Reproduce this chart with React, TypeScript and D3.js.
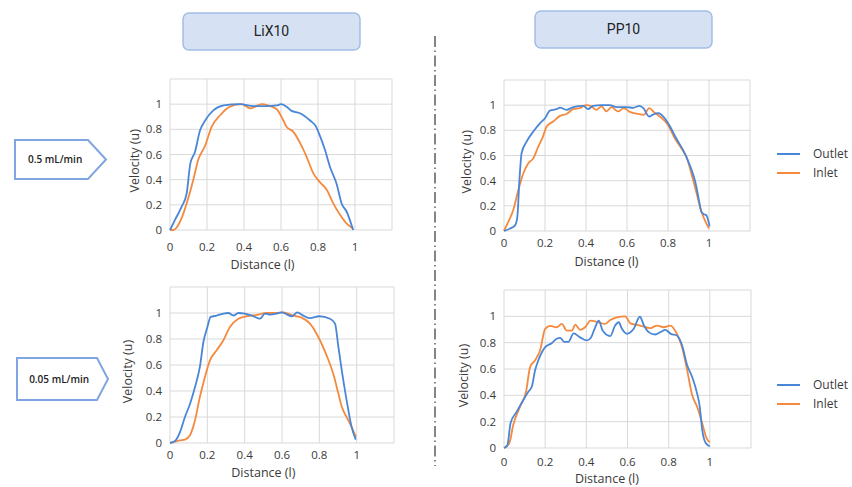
import React, { useEffect, useRef } from 'react';
import * as d3 from 'd3';

type Pt = [number, number];

// LiX10, 0.5 mL/min
const lixFastOutlet: Pt[] = [
  [0, 0], [0.027, 0.08], [0.063, 0.185], [0.09, 0.29], [0.11, 0.53], [0.135, 0.62], [0.162, 0.79],
  [0.19, 0.87], [0.234, 0.95], [0.29, 0.99], [0.378, 1.0], [0.45, 0.985], [0.52, 0.985], [0.577, 0.99],
  [0.6, 1.0], [0.63, 0.98], [0.657, 0.947], [0.7, 0.93], [0.757, 0.87], [0.79, 0.82], [0.81, 0.75],
  [0.838, 0.635], [0.865, 0.5], [0.9, 0.37], [0.928, 0.21], [0.955, 0.145], [0.99, 0.0],
];
const lixFastInlet: Pt[] = [
  [0, 0], [0.018, 0.0], [0.045, 0.04], [0.072, 0.13], [0.1, 0.26], [0.126, 0.4], [0.153, 0.56],
  [0.19, 0.67], [0.225, 0.82], [0.27, 0.91], [0.324, 0.98], [0.387, 1.0], [0.414, 0.98], [0.436, 0.966],
  [0.46, 0.98], [0.495, 1.0], [0.53, 0.99], [0.577, 0.96], [0.613, 0.87], [0.63, 0.82], [0.667, 0.78],
  [0.7, 0.7], [0.739, 0.58], [0.775, 0.45], [0.81, 0.38], [0.847, 0.32], [0.883, 0.21], [0.92, 0.12],
  [0.955, 0.05], [0.99, 0.013],
];

// PP10, 0.5 mL/min
const ppFastOutlet: Pt[] = [
  [0, 0], [0.03, 0.02], [0.054, 0.045], [0.065, 0.11], [0.075, 0.4], [0.086, 0.62], [0.11, 0.71],
  [0.143, 0.79], [0.175, 0.856], [0.2, 0.896], [0.224, 0.957], [0.256, 0.968], [0.273, 0.98],
  [0.305, 0.963], [0.338, 0.984], [0.386, 0.995], [0.41, 0.968], [0.435, 0.995], [0.476, 1.0],
  [0.516, 1.0], [0.549, 0.984], [0.597, 0.984], [0.63, 0.979], [0.662, 0.995], [0.68, 0.976],
  [0.708, 0.91], [0.727, 0.925], [0.752, 0.936], [0.784, 0.896], [0.81, 0.83], [0.84, 0.737],
  [0.873, 0.644], [0.906, 0.524], [0.935, 0.378], [0.951, 0.245], [0.963, 0.152], [0.976, 0.133],
  [0.987, 0.125], [1.003, 0.037],
];
const ppFastInlet: Pt[] = [
  [0, 0], [0.02, 0.07], [0.045, 0.165], [0.07, 0.325], [0.094, 0.457], [0.118, 0.537], [0.143, 0.577],
  [0.167, 0.67], [0.19, 0.75], [0.208, 0.83], [0.24, 0.87], [0.273, 0.915], [0.305, 0.93],
  [0.338, 0.968], [0.37, 0.976], [0.4, 1.0], [0.427, 0.99], [0.45, 0.963], [0.476, 0.99], [0.5, 0.95],
  [0.524, 0.984], [0.557, 0.95], [0.584, 0.976], [0.614, 0.947], [0.654, 0.93], [0.682, 0.923],
  [0.708, 0.976], [0.735, 0.94], [0.76, 0.91], [0.8, 0.843], [0.833, 0.737], [0.865, 0.657],
  [0.89, 0.59], [0.914, 0.457], [0.938, 0.31], [0.958, 0.178], [0.98, 0.085], [1.0, 0.02],
];

// LiX10, 0.05 mL/min
const lixSlowOutlet: Pt[] = [
  [0, 0], [0.027, 0.015], [0.054, 0.085], [0.08, 0.2], [0.107, 0.3], [0.134, 0.43], [0.16, 0.585],
  [0.179, 0.777], [0.2, 0.89], [0.218, 0.97], [0.25, 0.98], [0.286, 0.995], [0.3125, 1.0], [0.34, 0.98],
  [0.366, 1.0], [0.4, 0.995], [0.446, 0.975], [0.482, 0.956], [0.509, 0.995], [0.536, 0.987],
  [0.57, 0.995], [0.598, 1.005], [0.625, 0.99], [0.652, 0.975], [0.682, 1.005], [0.714, 0.98],
  [0.75, 0.96], [0.8, 0.975], [0.857, 0.956], [0.884, 0.918], [0.902, 0.74], [0.92, 0.56],
  [0.946, 0.33], [0.973, 0.123], [0.995, 0.026],
];
const lixSlowInlet: Pt[] = [
  [0, 0], [0.027, 0.01], [0.054, 0.02], [0.08, 0.026], [0.107, 0.06], [0.134, 0.175], [0.16, 0.354],
  [0.1875, 0.51], [0.214, 0.636], [0.25, 0.713], [0.286, 0.79], [0.32, 0.89], [0.366, 0.956],
  [0.41, 0.975], [0.464, 0.985], [0.518, 1.0], [0.57, 1.0], [0.607, 1.005], [0.66, 0.98], [0.705, 0.964],
  [0.75, 0.918], [0.8, 0.8], [0.84, 0.67], [0.875, 0.53], [0.902, 0.38], [0.92, 0.28], [0.946, 0.2],
  [0.973, 0.123], [0.996, 0.046],
];

// PP10, 0.05 mL/min
const ppSlowOutlet: Pt[] = [
  [0, 0], [0.016, 0.018], [0.032, 0.19], [0.062, 0.276], [0.094, 0.364], [0.118, 0.427], [0.135, 0.465],
  [0.151, 0.59], [0.167, 0.666], [0.2, 0.766], [0.232, 0.796], [0.256, 0.83], [0.273, 0.837],
  [0.292, 0.806], [0.313, 0.806], [0.338, 0.87], [0.37, 0.84], [0.403, 0.817], [0.422, 0.837],
  [0.443, 0.917], [0.46, 0.967], [0.48, 0.89], [0.516, 0.85], [0.54, 0.93], [0.557, 0.955],
  [0.573, 0.905], [0.597, 0.867], [0.63, 0.905], [0.66, 0.997], [0.68, 0.93], [0.703, 0.88],
  [0.735, 0.862], [0.76, 0.88], [0.784, 0.897], [0.81, 0.867], [0.84, 0.854], [0.865, 0.78],
  [0.89, 0.628], [0.914, 0.54], [0.938, 0.415], [0.951, 0.314], [0.963, 0.138], [0.98, 0.038],
  [1.0, 0.013],
];
const ppSlowInlet: Pt[] = [
  [0, 0], [0.026, 0.038], [0.045, 0.176], [0.078, 0.314], [0.107, 0.427], [0.127, 0.616], [0.151, 0.666],
  [0.175, 0.74], [0.2, 0.905], [0.224, 0.927], [0.256, 0.917], [0.281, 0.942], [0.305, 0.892],
  [0.33, 0.892], [0.346, 0.937], [0.37, 0.897], [0.394, 0.917], [0.42, 0.967], [0.46, 0.955],
  [0.49, 0.942], [0.516, 0.972], [0.549, 0.992], [0.589, 1.0], [0.614, 0.947], [0.662, 0.93],
  [0.711, 0.91], [0.743, 0.93], [0.776, 0.917], [0.808, 0.93], [0.84, 0.867], [0.865, 0.766],
  [0.89, 0.59], [0.914, 0.402], [0.938, 0.314], [0.963, 0.188], [0.984, 0.075], [1.0, 0.043],
];

const tickValues = [0, 0.2, 0.4, 0.6, 0.8, 1];
const gridValues = [0, 0.2, 0.4, 0.6, 0.8, 1, 1.2];
const materials = ['LiX10', 'PP10'];
const flowRates = ['0.5 mL/min', '0.05 mL/min'];
const seriesNames = ['Outlet', 'Inlet'];

const BLUE = '#4a86d6';
const ORANGE = '#f48a3e';
const FONT = '"Open Sans", "Noto Sans", sans-serif';

const panels = [
  { x0: 170, x1: 392, y0: 230, y1: 79, tickY: 247, titleY: 265, velX: 135, outlet: lixFastOutlet, inlet: lixFastInlet },
  { x0: 504, x1: 750, y0: 231, y1: 80, tickY: 243, titleY: 262, velX: 467, outlet: ppFastOutlet, inlet: ppFastInlet },
  { x0: 170, x1: 394, y0: 443, y1: 287, tickY: 455, titleY: 473, velX: 128, outlet: lixSlowOutlet, inlet: lixSlowInlet },
  { x0: 504, x1: 751, y0: 448, y1: 290, tickY: 462, titleY: 479, velX: 464, outlet: ppSlowOutlet, inlet: ppSlowInlet },
];

const App: React.FC = () => {
  const svgRef = useRef<SVGSVGElement>(null);

  useEffect(() => {
    document.body.style.margin = '0';
    if (!svgRef.current) return;
    const svg = d3.select(svgRef.current);
    svg.selectAll('*').remove();

    svg.append('rect').attr('width', 852).attr('height', 487).attr('fill', '#fff');

    panels.forEach(p => {
      const x = d3.scaleLinear().domain([0, 1.2]).range([p.x0, p.x1]);
      const y = d3.scaleLinear().domain([0, 1.2]).range([p.y0, p.y1]);
      const g = svg.append('g');

      // grid
      g.selectAll('.vgrid').data(gridValues).enter().append('line')
        .attr('x1', d => x(d)).attr('x2', d => x(d))
        .attr('y1', y(0)).attr('y2', y(1.2))
        .attr('stroke', '#d9d9d9').attr('stroke-width', 1);
      g.selectAll('.hgrid').data(gridValues).enter().append('line')
        .attr('x1', x(0)).attr('x2', x(1.2))
        .attr('y1', d => y(d)).attr('y2', d => y(d))
        .attr('stroke', '#d9d9d9').attr('stroke-width', 1);

      // tick labels
      g.selectAll('.ylab').data(tickValues).enter().append('text')
        .attr('x', x(0) - 8).attr('y', d => y(d)).attr('dy', '0.35em')
        .attr('text-anchor', 'end')
        .style('font-family', FONT).style('font-size', '11.5px').attr('fill', '#3a3a3a')
        .text(d => d3.format('~g')(d));
      g.selectAll('.xlab').data(tickValues).enter().append('text')
        .attr('x', d => x(d)).attr('y', p.tickY).attr('dy', '0.35em')
        .attr('text-anchor', 'middle')
        .style('font-family', FONT).style('font-size', '11.5px').attr('fill', '#3a3a3a')
        .text(d => d3.format('~g')(d));

      // axis titles
      g.append('text')
        .attr('x', x(0.5)).attr('y', p.titleY).attr('dy', '0.35em')
        .attr('text-anchor', 'middle')
        .style('font-family', FONT).style('font-size', '12.5px').attr('fill', '#3a3a3a')
        .text('Distance (l)');
      g.append('text')
        .attr('transform', `translate(${p.velX}, ${y(0.55)}) rotate(-90)`)
        .attr('dy', '0.35em')
        .attr('text-anchor', 'middle')
        .style('font-family', FONT).style('font-size', '12.5px').attr('fill', '#3a3a3a')
        .text('Velocity (u)');

      const line = d3.line<Pt>()
        .x(d => x(d[0]))
        .y(d => y(d[1]))
        .curve(d3.curveMonotoneX);

      g.append('path').datum(p.inlet)
        .attr('fill', 'none').attr('stroke', ORANGE).attr('stroke-width', 1.8)
        .attr('d', line);
      g.append('path').datum(p.outlet)
        .attr('fill', 'none').attr('stroke', BLUE).attr('stroke-width', 1.8)
        .attr('d', line);
    });

    // header boxes
    const headers = [
      { x: 183, y: 13, w: 177, h: 37 },
      { x: 535, y: 11, w: 177, h: 37 },
    ];
    headers.forEach((h, i) => {
      svg.append('rect')
        .attr('x', h.x).attr('y', h.y).attr('width', h.w).attr('height', h.h)
        .attr('rx', 6)
        .attr('fill', '#d6e2f4').attr('stroke', '#a3bde6').attr('stroke-width', 1.5);
      svg.append('text')
        .attr('x', h.x + h.w / 2).attr('y', h.y + h.h / 2).attr('dy', '0.35em')
        .attr('text-anchor', 'middle')
        .style('font-family', 'Roboto, sans-serif').style('font-size', '14px').attr('fill', '#222')
        .text(materials[i]);
    });

    // flow-rate arrow boxes
    const arrows = [
      { x: 15, y: 140, w: 73, tip: 18, h: 39 },
      { x: 17, y: 358, w: 80, tip: 11, h: 42 },
    ];
    arrows.forEach((a, i) => {
      const pts: [number, number][] = [
        [a.x, a.y], [a.x + a.w, a.y], [a.x + a.w + a.tip, a.y + a.h / 2],
        [a.x + a.w, a.y + a.h], [a.x, a.y + a.h],
      ];
      svg.append('path')
        .attr('d', d3.line()(pts) + 'Z')
        .attr('fill', '#fff').attr('stroke', '#7fa6e0').attr('stroke-width', 2);
      svg.append('text')
        .attr('x', a.x + (a.w + a.tip * 0.4) / 2).attr('y', a.y + a.h / 2).attr('dy', '0.35em')
        .attr('text-anchor', 'middle')
        .style('font-family', FONT).style('font-size', '10px').style('font-weight', 600).attr('fill', '#222')
        .text(flowRates[i]);
    });

    // dash-dot divider
    svg.append('line')
      .attr('x1', 435).attr('x2', 435).attr('y1', 36).attr('y2', 466)
      .attr('stroke', '#444').attr('stroke-width', 1.3)
      .attr('stroke-dasharray', '11 3.5 1.5 3.5');

    // legends
    const legendTops = [154, 385];
    legendTops.forEach(top => {
      [BLUE, ORANGE].forEach((c, j) => {
        const ly = top + j * 19;
        svg.append('line')
          .attr('x1', 777).attr('x2', 800).attr('y1', ly).attr('y2', ly)
          .attr('stroke', c).attr('stroke-width', 2);
        svg.append('text')
          .attr('x', 813).attr('y', ly).attr('dy', '0.35em')
          .style('font-family', FONT).style('font-size', '12px').attr('fill', '#3a3a3a')
          .text(seriesNames[j]);
      });
    });
  }, []);

  return <svg ref={svgRef} width={852} height={487} style={{ display: 'block' }} />;
};

export default App;
